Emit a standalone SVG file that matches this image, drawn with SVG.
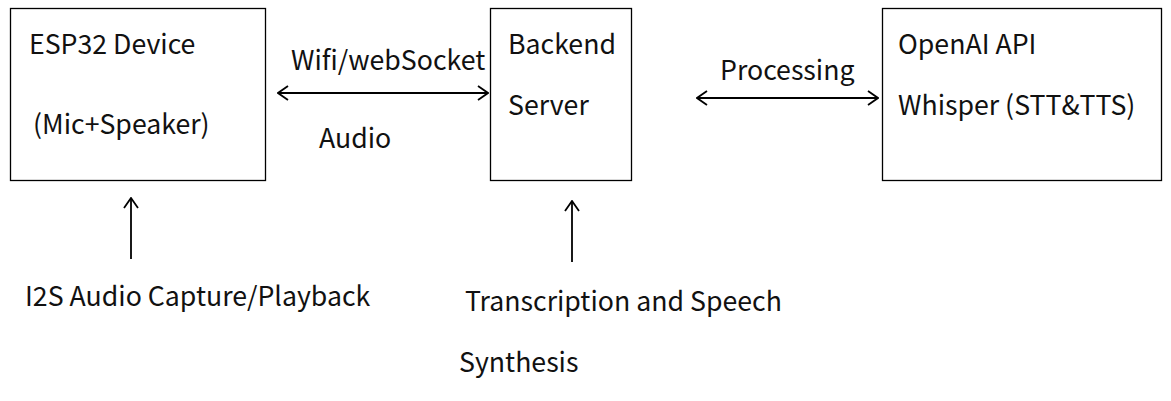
<svg xmlns="http://www.w3.org/2000/svg" width="1171" height="401" viewBox="0 0 1171 401">
<defs>
<marker id="ah" viewBox="0 0 12 16" refX="11" refY="8" markerWidth="12" markerHeight="16" markerUnits="userSpaceOnUse" orient="auto-start-reverse">
<path d="M1,1 L11,8 L1,15" fill="none" stroke="#000" stroke-width="1.8"/>
</marker>
<style>
.box{fill:#fff;stroke:#000;stroke-width:1.3}
.t{font-family:"Noto Sans CJK SC","Noto Sans",sans-serif;font-size:26.7px;fill:#111}
.c{stroke:#000;stroke-width:1.8;fill:none}
</style>
</defs>
<rect width="1171" height="401" fill="#fff"/>
<g id="esp32">
<rect class="box" x="10.5" y="8.5" width="255" height="172"/>
<text class="t" x="29" y="54">ESP32 Device</text>
<text class="t" x="33" y="134">(Mic+Speaker)</text>
</g>
<g id="backend">
<rect class="box" x="490.5" y="8.5" width="141" height="172"/>
<text class="t" x="508" y="54">Backend</text>
<text class="t" x="508" y="115">Server</text>
</g>
<g id="openai">
<rect class="box" x="882.5" y="8.5" width="279" height="172"/>
<text class="t" x="898" y="54">OpenAI API</text>
<text class="t" x="898" y="115">Whisper (STT&amp;TTS)</text>
</g>
<g id="connectors">
<line class="c" x1="278" y1="93" x2="488" y2="93" marker-start="url(#ah)" marker-end="url(#ah)"/>
<line class="c" x1="697" y1="98" x2="878" y2="98" marker-start="url(#ah)" marker-end="url(#ah)"/>
<line class="c" x1="131" y1="259" x2="131" y2="198" marker-end="url(#ah)"/>
<line class="c" x1="572" y1="262" x2="572" y2="201" marker-end="url(#ah)"/>
</g>
<g id="labels">
<text class="t" x="291" y="70">Wifi/webSocket</text>
<text class="t" x="319" y="148">Audio</text>
<text class="t" x="720" y="80">Processing</text>
<text class="t" x="25" y="306">I2S Audio Capture/Playback</text>
<text class="t" x="465" y="311">Transcription and Speech</text>
<text class="t" x="459" y="372">Synthesis</text>
</g>
</svg>
